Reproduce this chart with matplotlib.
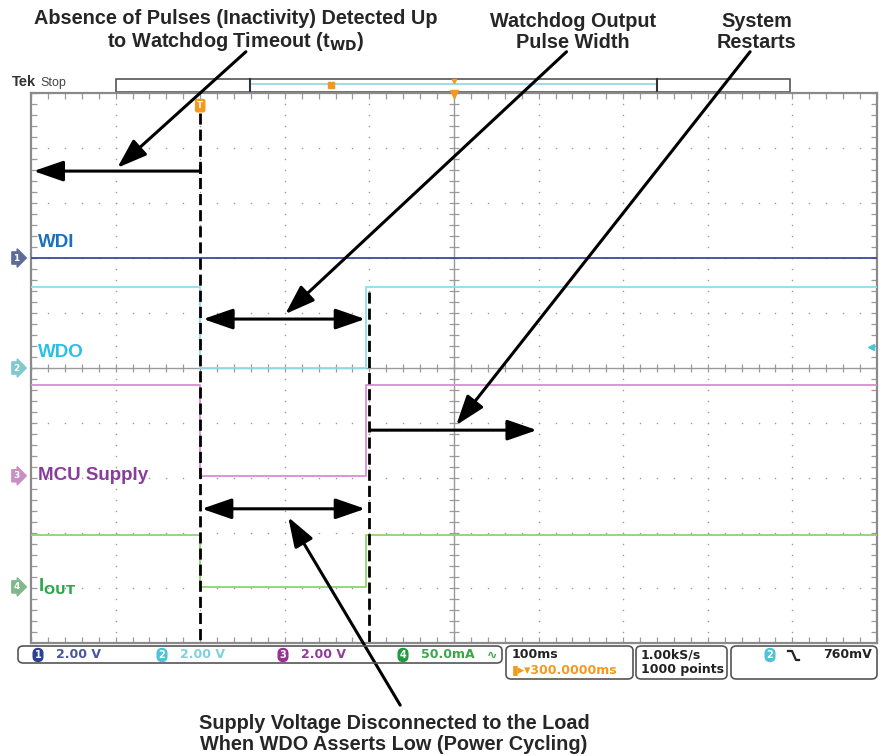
import numpy as np
import matplotlib.pyplot as plt
from matplotlib.patches import FancyBboxPatch, Rectangle
from matplotlib.lines import Line2D

W, H = 884, 756

# time in ms relative to trigger (100 ms/div), vertical in divisions
t_min, t_max = -200, 800
v_min, v_max = -5, 5

wdi_t = [-200, 800]
wdi_v = [2.0, 2.0]
step_t = [-200, 0, 0, 196, 196, 800]
wdo_v = [1.47, 1.47, 0.0, 0.0, 1.47, 1.47]
mcu_v = [-0.31, -0.31, -1.96, -1.96, -0.31, -0.31]
iout_v = [-3.04, -3.04, -3.98, -3.98, -3.04, -3.04]

ch_offsets = [2.0, 0.0, -1.96, -3.98]
ch_names = ['WDI', 'WDO', 'MCU Supply', r'I$_{\mathbf{OUT}}$']
ch_scales = ['2.00 V', '2.00 V', '2.00 V', '50.0mA']
label_colors = ['#1b6fbf', '#29bfea', '#8a3c9e', '#2aa84a']
trace_colors = ['#3c4aa0', '#8fdcef', '#d98ed2', '#8fd272']
tag_colors = ['#5f6c99', '#82c9cf', '#c98fc4', '#7fb98a']
badge_colors = ['#2b3f94', '#4cc4d8', '#9a2f95', '#1f9a3f']
scale_colors = ['#4a55a0', '#7fd0e0', '#8e3c9a', '#3aa84a']

twd_end = 0
pulse_end = 199
trig_level = 0.38

fig = plt.figure(figsize=(W / 100, H / 100), dpi=100)
ax = fig.add_axes([31 / W, 1 - 643 / H, 846 / W, 550 / H])
ax.set_xlim(t_min, t_max)
ax.set_ylim(v_min, v_max)

def fx(x):
    return x / W

def fy(y):
    return 1 - y / H

# graticule
grid_col = '#9a9a9a'
xs_major = np.arange(t_min + 100, t_max, 100)
ys_major = np.arange(v_min + 1, v_max, 1)
xs_minor = np.arange(t_min, t_max + 1, 20)
ys_minor = np.arange(v_min, v_max + 0.01, 0.2)
for x in xs_major:
    if x != 300:
        ax.scatter(np.full(ys_minor.size, x), ys_minor, s=1.2, color=grid_col, lw=0, zorder=1)
for y in ys_major:
    if y != 0:
        ax.scatter(xs_minor, np.full(xs_minor.size, y), s=1.2, color=grid_col, lw=0, zorder=1)
ax.axhline(0, color=grid_col, lw=1, zorder=1)
ax.axvline(300, color=grid_col, lw=1, zorder=1)
ax.vlines(xs_minor, -0.08, 0.08, color=grid_col, lw=0.9, zorder=1)
ax.hlines(ys_minor, 300 - 6, 300 + 6, color=grid_col, lw=0.9, zorder=1)
ax.set_xticks(np.arange(t_min, t_max + 1, 100))
ax.set_xticks(xs_minor, minor=True)
ax.set_yticks(np.arange(v_min, v_max + 0.1, 1))
ax.set_yticks(ys_minor, minor=True)
ax.tick_params(which='both', direction='in', top=True, right=True, color=grid_col,
               labelbottom=False, labelleft=False, length=4, width=0.9)
for s in ax.spines.values():
    s.set_color('#8a8a8a')
    s.set_linewidth(1.6)

# traces
ax.plot(wdi_t, wdi_v, color=trace_colors[0], lw=1.3, zorder=3)
ax.plot(step_t, wdo_v, color=trace_colors[1], lw=1.3, zorder=3)
ax.plot(step_t, mcu_v, color=trace_colors[2], lw=1.3, zorder=3)
ax.plot(step_t, iout_v, color=trace_colors[3], lw=1.3, zorder=3)

# dashed markers
ax.plot([twd_end, twd_end], [4.64, v_min], color='black', lw=2, ls=(0, (4, 1.8)), zorder=4)
ax.plot([pulse_end, pulse_end], [1.38, v_min], color='black', lw=2, ls=(0, (4, 1.8)), zorder=4)

# channel labels and tags
for off, name, lc in zip(ch_offsets, ch_names, label_colors):
    upper = name in ('WDI', 'WDO')
    ax.text(t_min + 8, off + 0.12 if upper else off, name, color=lc,
            fontsize=13.5, fontweight='bold', va='bottom' if upper else 'center',
            family='Liberation Sans', zorder=5)
for i, (off, tc) in enumerate(zip(ch_offsets, tag_colors)):
    ax.text(t_min - 17, off, str(i + 1), color='white', fontsize=6.5, fontweight='bold',
            ha='center', va='center', clip_on=False, zorder=6,
            bbox=dict(boxstyle='rarrow,pad=0.18', fc=tc, ec=tc))

# trigger marker and level
ax.text(twd_end, 4.77, 'T', color='white', fontsize=6, fontweight='bold', ha='center',
        va='center', zorder=6, bbox=dict(boxstyle='round,pad=0.2', fc='#f39a1e', ec='#f39a1e'))
ax.plot([793], [trig_level], marker='<', ms=4, color='#4cc4d8', zorder=6)

# arrows
def arrow(tail, head, both=False):
    style = '<|-|>' if both else '-|>'
    ax.annotate('', xy=head, xytext=tail, xycoords='data', textcoords='data',
                annotation_clip=False, zorder=7,
                arrowprops=dict(arrowstyle=style + ',head_length=1.3,head_width=0.45',
                                color='black', lw=2.2, mutation_scale=14, shrinkA=0, shrinkB=0))

ax.plot([twd_end, twd_end], [3.56, 3.68], color='black', lw=2.2, zorder=7)
arrow((twd_end, 3.58), (-197, 3.58))
arrow((54, 5.75), (-98, 3.64))
arrow((3.5, 0.89), (195, 0.89), both=True)
arrow((433, 5.75), (100.5, 0.98))
arrow((201, -1.13), (398, -1.13))
arrow((650, 5.75), (302.6, -1.04))
arrow((2, -2.56), (195, -2.56), both=True)
arrow((236.4, -6.13), (104, -2.71))

# record view bar above graticule
ax.add_patch(Rectangle((-100, 5.02), 797, 0.23, fill=False, ec='#555555', lw=1.2,
                       clip_on=False, transform=ax.transData))
ax.plot([59, 59], [5.02, 5.25], color='#333333', lw=1.5, clip_on=False)
ax.plot([540, 540], [5.02, 5.25], color='#333333', lw=1.5, clip_on=False)
ax.plot([61, 538], [5.16, 5.16], color='#9ad7e6', lw=1.3, clip_on=False)
ax.plot([155], [5.14], marker='s', ms=4, color='#f39a1e', clip_on=False)
ax.plot([300], [5.22], marker='v', ms=3, color='#f39a1e', clip_on=False)
ax.plot([300], [4.98], marker='v', ms=6, color='#f39a1e', clip_on=False, zorder=6)

# Tek Stop
fig.text(fx(12), fy(86), 'Tek', fontsize=10.5, fontweight='bold', color='#333333',
         family='Liberation Sans')
fig.text(fx(40), fy(86), 'Stop', fontsize=9, color='#444444', family='Liberation Sans')

# annotation texts
txt = dict(fontsize=14.3, fontweight='bold', color='#262626', ha='center', va='center',
           family='Liberation Sans', linespacing=1.12)
fig.text(fx(236), fy(31), 'Absence of Pulses (Inactivity) Detected Up\n'
         r'to Watchdog Timeout (t$_{\mathbf{WD}}$)', **txt)
fig.text(fx(573), fy(32), 'Watchdog Output\nPulse Width', **txt)
fig.text(fx(757), fy(32), 'System\nRestarts', **txt)
fig.text(fx(394), fy(734), 'Supply Voltage Disconnected to the Load\n'
         'When WDO Asserts Low (Power Cycling)', **txt)

# status bar
def box(x0, y0, x1, y1):
    fig.patches.append(FancyBboxPatch((fx(x0), fy(y1)), fx(x1 - x0), (y1 - y0) / H,
                                      boxstyle='round,pad=0,rounding_size=0.006',
                                      transform=fig.transFigure, fill=False,
                                      ec='#555555', lw=1.2))

sb = dict(fontsize=9, fontweight='bold', family='Liberation Sans Narrow', va='center')
box(18, 646, 502, 663)
badge_x = [38, 162, 283, 403]
for i, bx in enumerate(badge_x):
    fig.text(fx(bx), fy(655), str(i + 1), color='white', ha='center',
             bbox=dict(boxstyle='round,pad=0.15,rounding_size=0.5', fc=badge_colors[i],
                       ec=badge_colors[i]), **dict(sb, fontsize=7))
    fig.text(fx(bx + 18), fy(655), ch_scales[i], color=scale_colors[i], **sb)
fig.text(fx(487), fy(655), '∿', color='#3aa84a', **sb)

box(506, 646, 633, 679)
fig.text(fx(512), fy(655), '100ms', color='#222222', **sb)
fig.text(fx(512), fy(670), '▮▸▾300.0000ms', color='#f39a1e', **sb)

box(636, 646, 727, 679)
fig.text(fx(641), fy(655), '1.00kS/s', color='#222222', **sb)
fig.text(fx(641), fy(670), '1000 points', color='#222222', **sb)

box(731, 646, 877, 679)
fig.text(fx(770), fy(655), '2', color='white', ha='center',
         bbox=dict(boxstyle='round,pad=0.15,rounding_size=0.5', fc=badge_colors[1],
                   ec=badge_colors[1]), **dict(sb, fontsize=7))
fig.lines.append(Line2D([fx(788), fx(792), fx(796), fx(799)],
                        [fy(651), fy(651), fy(660), fy(660)], transform=fig.transFigure,
                        color='#222222', lw=1.6))
fig.text(fx(872), fy(655), '760mV', color='#222222', ha='right', **sb)

fig.savefig('out.png', dpi=100)
